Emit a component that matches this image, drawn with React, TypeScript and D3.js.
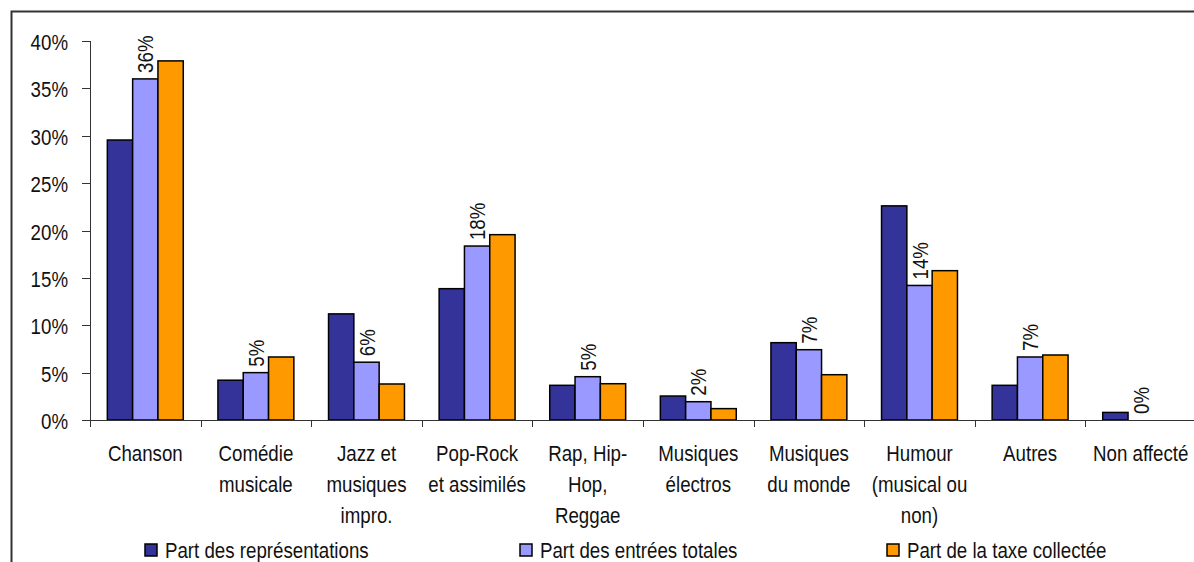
import React, { useEffect, useRef } from "react";
import * as d3 from "d3";

// categories (x labels, split on lines as in the chart)
const categories = [
  "Chanson",
  "Comédie musicale",
  "Jazz et musiques impro.",
  "Pop-Rock et assimilés",
  "Rap, Hip-Hop, Reggae",
  "Musiques électros",
  "Musiques du monde",
  "Humour (musical ou non)",
  "Autres",
  "Non affecté"
];
const labelLines = [
  ["Chanson"],
  ["Comédie", "musicale"],
  ["Jazz et", "musiques", "impro."],
  ["Pop-Rock", "et assimilés"],
  ["Rap, Hip-", "Hop,", "Reggae"],
  ["Musiques", "électros"],
  ["Musiques", "du monde"],
  ["Humour", "(musical ou", "non)"],
  ["Autres"],
  ["Non affecté"]
];

const seriesNames = [
  "Part des représentations",
  "Part des entrées totales",
  "Part de la taxe collectée"
];
const representations = [0.2955, 0.042, 0.112, 0.1386, 0.0366, 0.0253, 0.0816, 0.226, 0.0366, 0.008];
const entrees = [0.36, 0.05, 0.061, 0.1836, 0.0457, 0.0193, 0.0742, 0.142, 0.0665, 0.0];
const taxe = [0.379, 0.0665, 0.038, 0.1956, 0.0383, 0.012, 0.0478, 0.1576, 0.0686, 0.0];
const yTicks = [0, 0.05, 0.1, 0.15, 0.2, 0.25, 0.3, 0.35, 0.4];

const colors = ["#333399", "#9999FF", "#FF9900"];
const FONT = "'Liberation Sans', Arial, sans-serif";
const FS = 22;
const SX = 0.85; // narrow look

const App = () => {
  const ref = useRef(null);

  useEffect(() => {
    const W = 1194;
    const H = 562;
    const left = 90;
    const right = 1196;
    const top = 41;
    const bottom = 420;

    d3.select(ref.current).selectAll("*").remove();
    const svg = d3
      .select(ref.current)
      .append("svg")
      .attr("width", W)
      .attr("height", H)
      .style("position", "absolute")
      .style("left", "0px")
      .style("top", "0px")
      .style("font-family", FONT);

    svg.append("rect").attr("width", W).attr("height", H).attr("fill", "#fff");

    // condensed text helper
    const label = (parent, tx, ty, rot, anchor, lines, lh = 31) => {
      const g = parent
        .append("g")
        .attr("transform", `translate(${tx},${ty})${rot ? ` rotate(${rot})` : ""} scale(${SX},1)`);
      const t = g
        .append("text")
        .attr("text-anchor", anchor)
        .attr("fill", "#111")
        .style("font-size", FS + "px");
      lines.forEach((line, k) => {
        t.append("tspan").attr("x", 0).attr("y", k * lh).text(line);
      });
      return t;
    };

    // outer frame (only top and left visible)
    svg
      .append("path")
      .attr("d", `M11.5,${H}V11.5H${W}`)
      .attr("fill", "none")
      .attr("stroke", "#333")
      .attr("stroke-width", 2);

    const x = d3.scaleBand().domain(categories).range([left, right]).paddingInner(0).paddingOuter(0);
    const x1 = d3
      .scaleBand()
      .domain(["0", "1", "2"])
      .range([0, x.bandwidth()])
      .paddingInner(0)
      .paddingOuter(0.685);
    const y = d3.scaleLinear().domain([0, 0.4]).range([bottom, top]);
    const pct = d3.format(".0%");

    // y axis
    const yAxis = svg.append("g");
    yAxis
      .append("path")
      .attr("d", `M${left + 0.5},${top}V${bottom + 7}`)
      .attr("stroke", "#333")
      .attr("fill", "none");
    yTicks.forEach((t) => {
      const yy = Math.round(y(t)) + 0.5;
      yAxis
        .append("line")
        .attr("x1", left - 8)
        .attr("x2", left)
        .attr("y1", yy)
        .attr("y2", yy)
        .attr("stroke", "#333");
      label(yAxis, 68, yy + 8, 0, "end", [pct(t)]);
    });

    const series = [representations, entrees, taxe];
    const groups = svg
      .append("g")
      .selectAll("g")
      .data(categories)
      .join("g")
      .attr("transform", (d) => `translate(${x(d)},0)`);

    groups.each(function (cat, i) {
      const g = d3.select(this);
      series.forEach((vals, s) => {
        const v = vals[i];
        if (v <= 0) return;
        g.append("rect")
          .attr("x", x1(String(s)))
          .attr("y", y(v))
          .attr("width", x1.bandwidth())
          .attr("height", y(0) - y(v))
          .attr("fill", colors[s])
          .attr("stroke", "#000")
          .attr("stroke-width", 1.5);
      });
      // value labels above the "entrées" bar
      const v = entrees[i];
      const cx = x1("1") + x1.bandwidth() / 2;
      label(g, cx + 8, y(v) - 6, -90, "start", [pct(v)]);
    });

    // x axis
    const xAxisG = svg.append("g");
    xAxisG
      .append("line")
      .attr("x1", left)
      .attr("x2", W)
      .attr("y1", bottom + 0.5)
      .attr("y2", bottom + 0.5)
      .attr("stroke", "#333");
    categories.forEach((c, i) => {
      if (i === 0) return;
      xAxisG
        .append("line")
        .attr("x1", Math.round(x(c)) + 0.5)
        .attr("x2", Math.round(x(c)) + 0.5)
        .attr("y1", bottom)
        .attr("y2", bottom + 7)
        .attr("stroke", "#333");
    });
    categories.forEach((c, i) => {
      label(xAxisG, x(c) + x.bandwidth() / 2, 461, 0, "middle", labelLines[i]);
    });

    // legend
    const legendX = [145, 520, 887];
    const legend = svg.append("g");
    seriesNames.forEach((name, s) => {
      legend
        .append("rect")
        .attr("x", legendX[s])
        .attr("y", 544)
        .attr("width", 12)
        .attr("height", 12)
        .attr("fill", colors[s])
        .attr("stroke", "#000")
        .attr("stroke-width", 1.5);
      label(legend, legendX[s] + 20, 558, 0, "start", [name]);
    });
  }, []);

  return <div ref={ref}></div>;
};

export default App;
